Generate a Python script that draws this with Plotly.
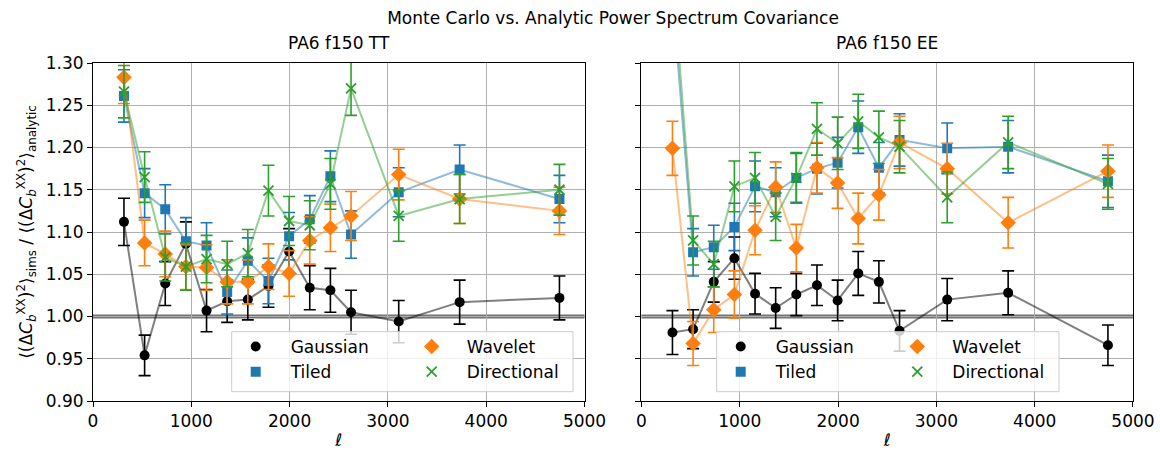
import plotly.graph_objects as go
from plotly.subplots import make_subplots

# ---------------- data ----------------
ell = [315, 525, 735, 945, 1155, 1365, 1575, 1785, 1995, 2205, 2415, 2625, 3110, 3730, 4745]

tt_gauss = [1.112, 0.954, 1.039, 1.086, 1.007, 1.018, 1.020, 1.036, 1.077, 1.034, 1.031, 1.005, 0.994, 1.017, 1.022]
tt_gauss_err = [0.028, 0.024, 0.026, 0.026, 0.025, 0.025, 0.024, 0.025, 0.027, 0.026, 0.026, 0.026, 0.025, 0.026, 0.026]
tt_tiled = [1.261, 1.146, 1.127, 1.089, 1.084, 1.029, 1.066, 1.042, 1.095, 1.115, 1.166, 1.097, 1.147, 1.174, 1.139]
tt_tiled_err = [0.031, 0.029, 0.029, 0.028, 0.027, 0.026, 0.027, 0.027, 0.028, 0.028, 0.030, 0.028, 0.029, 0.029, 0.028]
tt_wavelet = [1.283, 1.087, 1.074, 1.059, 1.058, 1.041, 1.041, 1.059, 1.051, 1.090, 1.105, 1.119, 1.168, 1.139, 1.125]
tt_wavelet_err = [0.031, 0.027, 0.027, 0.027, 0.027, 0.026, 0.026, 0.027, 0.027, 0.028, 0.028, 0.029, 0.030, 0.029, 0.028]
tt_dir = [1.266, 1.165, 1.070, 1.059, 1.068, 1.062, 1.075, 1.149, 1.113, 1.108, 1.157, 1.270, 1.119, 1.139, 1.150]
tt_dir_err = [0.031, 0.030, 0.028, 0.028, 0.028, 0.027, 0.028, 0.030, 0.029, 0.029, 0.030, 0.032, 0.030, 0.029, 0.030]

ee_gauss = [0.981, 0.985, 1.041, 1.069, 1.027, 1.010, 1.026, 1.037, 1.019, 1.051, 1.041, 0.983, 1.020, 1.028, 0.966]
ee_gauss_err = [0.026, 0.023, 0.024, 0.025, 0.024, 0.024, 0.025, 0.024, 0.024, 0.026, 0.025, 0.024, 0.025, 0.026, 0.024]
ee_tiled = [1.380, 1.076, 1.082, 1.106, 1.154, 1.147, 1.164, 1.175, 1.182, 1.224, 1.176, 1.209, 1.199, 1.201, 1.160]
ee_tiled_err = [0.035, 0.028, 0.026, 0.028, 0.030, 0.029, 0.029, 0.030, 0.030, 0.031, 0.030, 0.031, 0.030, 0.031, 0.031]
ee_wavelet = [1.199, 0.968, 1.008, 1.026, 1.102, 1.153, 1.081, 1.176, 1.158, 1.116, 1.144, 1.206, 1.175, 1.111, 1.172]
ee_wavelet_err = [0.032, 0.026, 0.027, 0.028, 0.029, 0.030, 0.028, 0.030, 0.030, 0.030, 0.030, 0.031, 0.030, 0.030, 0.031]
ee_dir = [1.410, 1.090, 1.062, 1.154, 1.164, 1.118, 1.164, 1.222, 1.205, 1.231, 1.212, 1.201, 1.141, 1.206, 1.157]
ee_dir_err = [0.036, 0.029, 0.027, 0.030, 0.030, 0.028, 0.030, 0.031, 0.031, 0.032, 0.031, 0.031, 0.030, 0.031, 0.030]

names = ["Gaussian", "Tiled", "Wavelet", "Directional"]
colors = ["#000000", "#1f77b4", "#ff7f0e", "#2ca02c"]
line_colors = ["rgba(0,0,0,0.5)", "rgba(31,119,180,0.5)", "rgba(255,127,14,0.5)", "rgba(44,160,44,0.5)"]
symbols = ["circle", "square", "diamond", "x-thin"]
sizes = [10, 10, 12, 10]

panels = [
    ([tt_gauss, tt_tiled, tt_wavelet, tt_dir], [tt_gauss_err, tt_tiled_err, tt_wavelet_err, tt_dir_err]),
    ([ee_gauss, ee_tiled, ee_wavelet, ee_dir], [ee_gauss_err, ee_tiled_err, ee_wavelet_err, ee_dir_err]),
]

FONT = "DejaVu Sans"
fig = make_subplots(rows=1, cols=2, shared_yaxes=True, horizontal_spacing=0.0548)

legend_names = [["legend", "legend", "legend2", "legend2"], ["legend3", "legend3", "legend4", "legend4"]]

for p, (vals, errs) in enumerate(panels):
    col = p + 1
    for i in range(4):
        fig.add_trace(go.Scatter(
            x=ell, y=vals[i], mode="lines",
            line=dict(color=line_colors[i], width=2),
            showlegend=False, hoverinfo="skip", cliponaxis=True,
        ), row=1, col=col)
        mk = dict(color=colors[i], size=sizes[i], symbol=symbols[i])
        if symbols[i] == "x-thin":
            mk["line"] = dict(color=colors[i], width=1.8)
        fig.add_trace(go.Scatter(
            x=ell, y=vals[i], mode="markers", name=names[i],
            marker=mk,
            error_y=dict(type="data", array=errs[i], visible=True,
                         color=colors[i], thickness=1.6, width=6),
            legend=legend_names[p][i], showlegend=True, cliponaxis=True,
        ), row=1, col=col)

axis_common = dict(
    showline=True, linecolor="black", linewidth=1, mirror=True,
    ticks="outside", ticklen=5, tickwidth=1, tickcolor="black",
    showgrid=True, gridcolor="#b0b0b0", gridwidth=1, zeroline=False,
    tickfont=dict(family=FONT, size=17, color="black"), automargin=False,
)
for c in (1, 2):
    fig.update_xaxes(range=[0, 5000], tickvals=[0, 1000, 2000, 3000, 4000, 5000],
                     title=dict(text="<i>ℓ</i>", font=dict(family=FONT, size=17, color="black"), standoff=4),
                     row=1, col=c, **axis_common)
    fig.update_yaxes(range=[0.9, 1.3], tickvals=[0.9, 0.95, 1.0, 1.05, 1.1, 1.15, 1.2, 1.25, 1.3],
                     tickformat=".2f", row=1, col=c, **axis_common)
fig.update_yaxes(showticklabels=False, row=1, col=2)
fig.update_yaxes(
    title=dict(
        text="⟨(Δ<i>C</i><sub><i>b</i></sub><sup>XX</sup>)<sup>2</sup>⟩<sub>sims</sub> / ⟨(Δ<i>C</i><sub><i>b</i></sub><sup>XX</sup>)<sup>2</sup>⟩<sub>analytic</sub>",
        font=dict(family=FONT, size=17, color="black"), standoff=8),
    row=1, col=1)

# reference line at 1
for xr, yr in (("x domain", "y"), ("x2 domain", "y2")):
    fig.add_shape(type="line", xref=xr, yref=yr, x0=0, x1=1, y0=1.0, y1=1.0,
                  line=dict(color="rgba(100,100,100,0.9)", width=4), layer="below")

# legend boxes (matplotlib-style frame)
for (bx0, bx1) in ((231.7, 573.0), (716.7, 1059.0)):
    fig.add_shape(type="rect", xref="paper", yref="paper",
                  x0=(bx0 - 93) / 1040, x1=(bx1 - 93) / 1040,
                  y0=(401 - 391.7) / 338, y1=(401 - 331.7) / 338,
                  fillcolor="rgba(255,255,255,0.8)", line=dict(color="#cccccc", width=1),
                  layer="above")

leg_common = dict(orientation="v", xanchor="left", yanchor="top", bgcolor="rgba(0,0,0,0)",
                  borderwidth=0, font=dict(family=FONT, size=17, color="black"),
                  itemwidth=60, tracegroupgap=0)
def lx(px):
    return (px - 93) / 1040
ly = (401 - 329) / 338
fig.update_layout(
    legend=dict(x=lx(220.7), y=ly, **leg_common),
    legend2=dict(x=lx(396.7), y=ly, **leg_common),
    legend3=dict(x=lx(705.7), y=ly, **leg_common),
    legend4=dict(x=lx(882.3), y=ly, **leg_common),
)

# subplot titles
for xc, txt in (((93 + 584) / 2, "PA6 f150 TT"), ((641 + 1133) / 2, "PA6 f150 EE")):
    fig.add_annotation(text=txt, xref="paper", yref="paper", x=(xc - 93) / 1040, y=1,
                       yshift=8, xanchor="center", yanchor="bottom", showarrow=False,
                       font=dict(family=FONT, size=17, color="black"))

fig.update_layout(
    width=1160, height=450,
    margin=dict(l=93, r=27, t=63, b=49, autoexpand=False),
    paper_bgcolor="white", plot_bgcolor="white",
    title=dict(text="Monte Carlo vs. Analytic Power Spectrum Covariance",
               x=0.5, xref="paper", y=1 - 18 / 450, yanchor="middle",
               font=dict(family=FONT, size=17, color="black")),
    font=dict(family=FONT, size=17, color="black"),
)

fig.write_html("out.html")
